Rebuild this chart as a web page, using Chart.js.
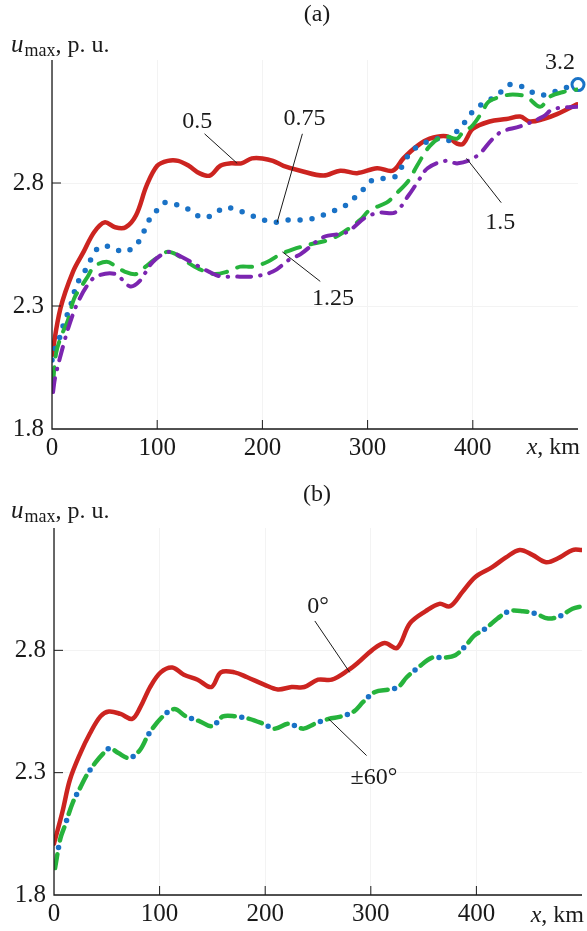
<!DOCTYPE html>
<html>
<head>
<meta charset="utf-8">
<script src="https://cdn.jsdelivr.net/npm/chart.js@4/dist/chart.umd.min.js"></script>
<style>
    html, body { margin: 0; padding: 0; background: #fff; }
    .wrap { position: absolute; left: 0; width: 587px; }
    #wrapA { top: 0; height: 460px; }
    #wrapB { top: 460px; height: 471px; }
</style>
</head>
<body>
<div class="wrap" id="wrapA"><canvas id="chartA"></canvas></div>
<div class="wrap" id="wrapB"><canvas id="chartB"></canvas></div>
<script>
// --- Data ---
const xTicks = [0, 100, 200, 300, 400];
const yTicks = [1.8, 2.3, 2.8];

// panel (a)
const redAx = [0, 8, 20, 30, 40, 50, 60, 70, 80, 90, 100, 110, 120, 130, 140, 150, 160, 170, 180, 190, 200, 210, 220, 236, 258, 274, 290, 309, 324, 334, 347, 359, 375, 385, 391, 400, 416, 432, 445, 454, 467, 480, 499];
const redAy = [2.10, 2.29, 2.44, 2.52, 2.60, 2.64, 2.62, 2.62, 2.67, 2.79, 2.87, 2.89, 2.89, 2.87, 2.84, 2.83, 2.87, 2.88, 2.88, 2.90, 2.90, 2.89, 2.87, 2.85, 2.83, 2.85, 2.84, 2.86, 2.85, 2.90, 2.95, 2.98, 2.99, 2.96, 2.96, 3.02, 3.05, 3.06, 3.07, 3.05, 3.06, 3.08, 3.12];

const blueAx = [0, 3, 8, 12, 17, 20, 25, 31, 37, 45, 56, 68, 78, 85, 91, 98, 107, 120, 131, 142, 153, 164, 176, 188, 201, 213, 226, 239, 252, 263, 276, 285, 295, 304, 317, 328, 334, 342, 353, 366, 376, 385, 393, 402, 413, 424, 435, 448, 461, 471, 483, 499];
const blueAy = [2.08, 2.13, 2.18, 2.24, 2.29, 2.34, 2.40, 2.44, 2.49, 2.54, 2.54, 2.52, 2.54, 2.58, 2.64, 2.68, 2.72, 2.71, 2.69, 2.66, 2.67, 2.70, 2.69, 2.67, 2.65, 2.64, 2.65, 2.65, 2.66, 2.68, 2.70, 2.73, 2.77, 2.81, 2.82, 2.83, 2.88, 2.93, 2.96, 2.98, 2.97, 3.01, 3.05, 3.10, 3.13, 3.16, 3.20, 3.19, 3.16, 3.16, 3.18, 3.20];

const greenAx = [1, 4, 9, 15, 21, 28, 34, 40, 52, 61, 69, 80, 89, 98, 109, 118, 128, 140, 154, 167, 179, 191, 205, 217, 229, 245, 264, 277, 293, 302, 318, 328, 339, 347, 359, 372, 385, 391, 399, 409, 415, 426, 438, 451, 464, 473, 486, 499];
const greenAy = [1.99, 2.11, 2.18, 2.24, 2.33, 2.38, 2.42, 2.46, 2.48, 2.46, 2.44, 2.43, 2.46, 2.49, 2.52, 2.51, 2.48, 2.45, 2.43, 2.44, 2.46, 2.46, 2.48, 2.51, 2.53, 2.55, 2.57, 2.60, 2.65, 2.69, 2.72, 2.76, 2.81, 2.87, 2.95, 2.99, 2.98, 3.01, 3.03, 3.09, 3.13, 3.15, 3.16, 3.15, 3.11, 3.15, 3.17, 3.18];

const purpleAx = [1, 3, 12, 17, 23, 33, 42, 60, 74, 83, 96, 111, 123, 140, 160, 172, 191, 210, 226, 236, 258, 280, 298, 312, 326, 339, 347, 357, 374, 386, 404, 419, 428, 445, 467, 476, 499];
const purpleAy = [1.95, 2.01, 2.16, 2.23, 2.30, 2.38, 2.42, 2.43, 2.38, 2.40, 2.48, 2.52, 2.50, 2.46, 2.42, 2.42, 2.42, 2.44, 2.49, 2.51, 2.58, 2.60, 2.66, 2.68, 2.68, 2.75, 2.80, 2.86, 2.89, 2.88, 2.91, 2.98, 3.01, 3.03, 3.07, 3.10, 3.11];

const markerAx = [500];
const markerAy = [3.2];

// panel (b)
const redBx = [0, 8, 15, 25, 34, 44, 52, 63, 74, 82, 91, 101, 112, 123, 136, 149, 158, 171, 183, 199, 212, 225, 237, 250, 263, 279, 288, 301, 313, 325, 337, 352, 365, 375, 387, 399, 415, 428, 441, 453, 466, 479, 491, 500];
const redBy = [2.01, 2.14, 2.27, 2.38, 2.46, 2.53, 2.55, 2.54, 2.52, 2.57, 2.65, 2.71, 2.73, 2.70, 2.68, 2.65, 2.71, 2.71, 2.69, 2.66, 2.64, 2.65, 2.65, 2.68, 2.68, 2.72, 2.75, 2.80, 2.83, 2.81, 2.91, 2.96, 2.99, 2.98, 3.04, 3.10, 3.14, 3.18, 3.21, 3.19, 3.16, 3.18, 3.21, 3.21];

const sixtyBx = [1, 6, 10, 18, 25, 31, 39, 47, 53, 61, 71, 81, 90, 103, 114, 125, 138, 150, 160, 172, 185, 198, 209, 222, 236, 247, 260, 272, 284, 293, 304, 317, 326, 334, 345, 358, 369, 380, 390, 398, 409, 420, 431, 444, 456, 468, 479, 491, 500];
const sixtyBy = [1.91, 2.03, 2.08, 2.18, 2.24, 2.29, 2.34, 2.38, 2.40, 2.38, 2.36, 2.39, 2.46, 2.53, 2.56, 2.53, 2.51, 2.49, 2.53, 2.53, 2.52, 2.50, 2.48, 2.50, 2.48, 2.50, 2.52, 2.53, 2.55, 2.59, 2.63, 2.64, 2.65, 2.69, 2.73, 2.77, 2.77, 2.78, 2.82, 2.86, 2.89, 2.93, 2.96, 2.96, 2.95, 2.93, 2.94, 2.97, 2.98];

// labels with leader lines, in data units: [text, textX, textY, fromX, fromY, toX, toY]
const notesA = [
    ['0.5', 138, 3.05, 145, 3.00, 176, 2.88],
    ['0.75', 240, 3.06, 238, 3.00, 214, 2.64],
    ['1.25', 267, 2.33, 255, 2.40, 219, 2.52],
    ['1.5', 426, 2.64, 427, 2.72, 394, 2.90],
    ['3.2', 483, 3.29, null, null, null, null],
];
const notesB = [
    ['0°', 250, 2.98, 247, 2.92, 280, 2.71],
    ['±60°', 303, 2.28, 296, 2.37, 260, 2.52],
];

// --- Style ---
const colors = {
    red: '#cc2420',
    blue: '#1a72c6',
    green: '#26b33c',
    purple: '#7b25b0',
    text: '#1a1a1a',
};
const SERIF = '"Liberation Serif", "DejaVu Serif", serif';

function pts(xs, ys) {
    return xs.map((x, i) => ({ x, y: ys[i] }));
}

function lineSet(data, color, width, dash, offset) {
    return {
        data,
        borderColor: color,
        borderWidth: width,
        borderDash: dash,
        borderDashOffset: offset || 0,
        borderCapStyle: 'round',
        borderJoinStyle: 'round',
        tension: 0.35,
        pointRadius: 0,
        fill: false,
    };
}

// axis lines, inward ticks, titles and callouts
const decorPlugin = {
    id: 'decor',
    afterDraw(chart, args, opts) {
        const { ctx, chartArea: a, scales: { x, y } } = chart;
        ctx.save();
        ctx.strokeStyle = colors.text;
        ctx.lineWidth = 1.3;
        ctx.beginPath();
        ctx.moveTo(a.left, a.top);
        ctx.lineTo(a.left, a.bottom);
        ctx.lineTo(a.right, a.bottom);
        ctx.stroke();

        ctx.lineWidth = 1;
        for (const v of xTicks.slice(1)) {
            const px = x.getPixelForValue(v);
            ctx.beginPath();
            ctx.moveTo(px, a.bottom);
            ctx.lineTo(px, a.bottom - 9);
            ctx.stroke();
        }
        for (const v of yTicks.slice(1)) {
            const py = y.getPixelForValue(v);
            ctx.beginPath();
            ctx.moveTo(a.left, py);
            ctx.lineTo(a.left + 9, py);
            ctx.stroke();
        }

        ctx.fillStyle = colors.text;
        // panel letter
        ctx.font = '24px ' + SERIF;
        ctx.textAlign = 'center';
        ctx.textBaseline = 'middle';
        ctx.fillText(opts.letter, 317, opts.letterY);

        // y title: u_max, p. u.
        ctx.textAlign = 'left';
        ctx.textBaseline = 'alphabetic';
        let tx = 11;
        const ty = opts.titleY;
        ctx.font = 'italic 25px ' + SERIF;
        ctx.fillText('u', tx, ty);
        tx += ctx.measureText('u').width + 1;
        ctx.font = '18px ' + SERIF;
        ctx.fillText('max', tx, ty + 4);
        tx += ctx.measureText('max').width;
        ctx.font = '24px ' + SERIF;
        ctx.fillText(', p. u.', tx, ty);

        // x title: x, km
        ctx.textBaseline = 'middle';
        ctx.font = '24px ' + SERIF;
        const kmW = ctx.measureText(', km').width;
        ctx.textAlign = 'right';
        ctx.fillText(', km', a.right + 2, opts.xTitleY);
        ctx.font = 'italic 24px ' + SERIF;
        ctx.fillText('x', a.right + 2 - kmW, opts.xTitleY);

        // callouts
        ctx.font = '24px ' + SERIF;
        ctx.textAlign = 'center';
        ctx.lineWidth = 1;
        for (const [t, lx, ly, fx, fy, qx, qy] of opts.notes) {
            ctx.fillText(t, x.getPixelForValue(lx), y.getPixelForValue(ly));
            if (fx === null) continue;
            ctx.beginPath();
            ctx.moveTo(x.getPixelForValue(fx), y.getPixelForValue(fy));
            ctx.lineTo(x.getPixelForValue(qx), y.getPixelForValue(qy));
            ctx.stroke();
        }
        ctx.restore();
    },
};

function makeOptions(yWidth, xHeight, padTop, padRight, decor) {
    return {
        responsive: true,
        maintainAspectRatio: false,
        animation: false,
        layout: { padding: { top: padTop, right: padRight, left: 0, bottom: 0 } },
        plugins: {
            legend: { display: false },
            tooltip: { enabled: false },
            decor,
        },
        scales: {
            x: {
                type: 'linear',
                min: 0,
                max: 500,
                afterBuildTicks: s => { s.ticks = xTicks.map(v => ({ value: v })); },
                afterFit: s => { s.height = xHeight; },
                grid: { color: '#f3f3f3', drawTicks: false },
                border: { display: false },
                ticks: { color: colors.text, font: { family: SERIF, size: 25 }, padding: 4 },
            },
            y: {
                min: 1.8,
                max: 3.3,
                afterBuildTicks: s => { s.ticks = yTicks.map(v => ({ value: v })); },
                afterFit: s => { s.width = yWidth; },
                grid: { color: '#f3f3f3', drawTicks: false },
                border: { display: false },
                ticks: { color: colors.text, font: { family: SERIF, size: 25 }, padding: 8, callback: v => v.toFixed(1) },
            },
        },
    };
}

// --- Panel (a) ---
new Chart(document.getElementById('chartA'), {
    type: 'line',
    data: {
        datasets: [
            lineSet(pts(purpleAx, purpleAy), colors.purple, 4, [14, 9, 0.5, 9]),
            lineSet(pts(greenAx, greenAy), colors.green, 4, [15, 11]),
            lineSet(pts(blueAx, blueAy), colors.blue, 5.5, [0, 12]),
            lineSet(pts(redAx, redAy), colors.red, 4.5, []),
            {
                data: pts(markerAx, markerAy),
                showLine: false,
                pointRadius: 6,
                pointBorderWidth: 3,
                pointBorderColor: colors.blue,
                pointBackgroundColor: 'rgba(255,255,255,0)',
                clip: false,
            },
        ],
    },
    options: makeOptions(52, 31, 60, 8, { letter: '(a)', letterY: 15, titleY: 52, xTitleY: 448, notes: notesA }),
    plugins: [decorPlugin],
});

// --- Panel (b) ---
const sixty = pts(sixtyBx, sixtyBy);
new Chart(document.getElementById('chartB'), {
    type: 'line',
    data: {
        datasets: [
            lineSet(sixty, colors.green, 4.5, [14, 14]),
            lineSet(sixty, colors.blue, 5.5, [0, 28], -21),
            lineSet(pts(redBx, redBy), colors.red, 4.5, []),
        ],
    },
    options: makeOptions(54, 36, 68, 5, { letter: '(b)', letterY: 35, titleY: 58, xTitleY: 456, notes: notesB }),
    plugins: [decorPlugin],
});
</script>
</body>
</html>
